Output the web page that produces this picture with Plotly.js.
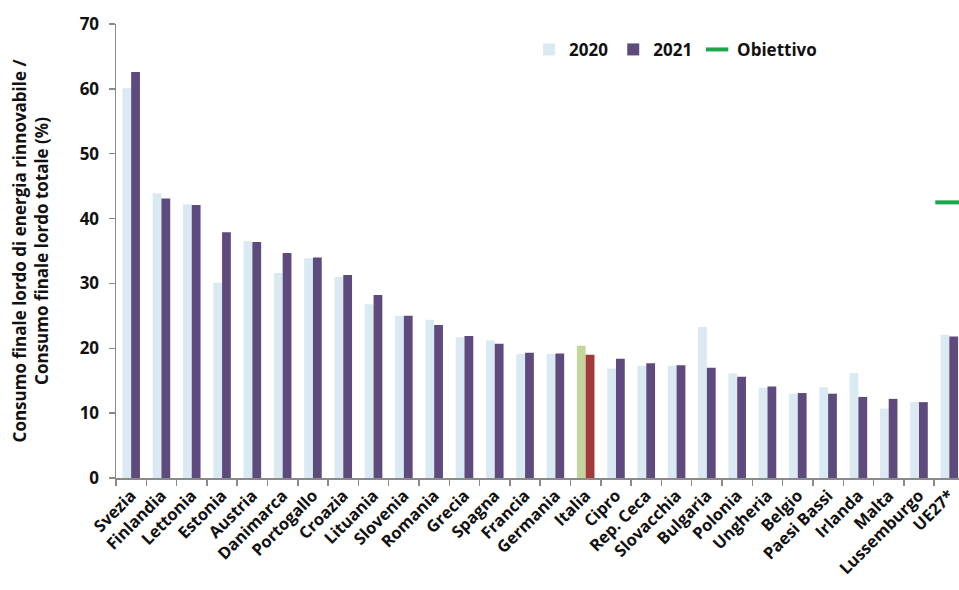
<!DOCTYPE html>
<html>
<head>
<meta charset="utf-8">
<script src="https://cdn.plot.ly/plotly-3.0.1.min.js"></script>
<style>html,body{margin:0;padding:0;background:#fff;}</style>
</head>
<body>
<div id="chart" style="width:959px;height:590px;"></div>
<script>
const categories = ["Svezia","Finlandia","Lettonia","Estonia","Austria","Danimarca","Portogallo","Croazia","Lituania","Slovenia","Romania","Grecia","Spagna","Francia","Germania","Italia","Cipro","Rep. Ceca","Slovacchia","Bulgaria","Polonia","Ungheria","Belgio","Paesi Bassi","Irlanda","Malta","Lussemburgo","UE27*"];
const values2020 = [60.1,43.9,42.2,30.1,36.5,31.6,33.9,31.0,26.8,25.0,24.4,21.7,21.2,19.1,19.1,20.4,16.9,17.3,17.3,23.3,16.1,13.9,13.0,14.0,16.2,10.7,11.7,22.1];
const values2021 = [62.6,43.1,42.1,37.9,36.4,34.7,34.0,31.3,28.2,25.0,23.6,21.9,20.7,19.3,19.2,19.0,18.4,17.7,17.4,17.0,15.6,14.1,13.1,13.0,12.5,12.2,11.7,21.8];
const targetCategory = ["UE27*"];
const targetValue = [42.5];

const col2020 = "#daeaf3", col2021 = "#5e4a7d";
const colors2020 = categories.map(c => c === "Italia" ? "#c3d69b" : col2020);
const colors2021 = categories.map(c => c === "Italia" ? "#a2393a" : col2021);

const fam = "Open Sans, sans-serif";

const traces = [
  {type: "bar", name: "2020", x: categories, y: values2020, marker: {color: colors2020}},
  {type: "bar", name: "2021", x: categories, y: values2021, marker: {color: colors2021}},
  {type: "scatter", mode: "markers", name: "Obiettivo", x: targetCategory, y: targetValue,
   marker: {symbol: "line-ew", size: 20, color: "#1aa64a", line: {color: "#1aa64a", width: 4}}}
];

const layout = {
  width: 959, height: 590,
  margin: {l: 116, r: 0, t: 24, b: 112},
  paper_bgcolor: "#fff", plot_bgcolor: "#fff",
  font: {family: fam, size: 16, color: "#111", weight: 700},
  barmode: "group", bargap: 0.42, bargroupgap: 0,
  showlegend: true,
  legend: {orientation: "h", x: 0.49, y: 0.943, xanchor: "left", yanchor: "middle",
    font: {family: fam, size: 17, color: "#111", weight: 700},
    bgcolor: "rgba(0,0,0,0)", itemwidth: 30, traceorder: "normal"},
  xaxis: {
    range: [-0.5, 27.32], type: "category",
    showline: true, linecolor: "#8a8a8a", linewidth: 1.5,
    ticks: "outside", tickson: "boundaries", ticklen: 6, tickcolor: "#8a8a8a", tickwidth: 1.5,
    tickangle: -45, tickfont: {family: fam, size: 16.5, color: "#111", weight: 700},
    showgrid: false, zeroline: false, automargin: false
  },
  yaxis: {
    range: [0, 70], dtick: 10,
    showline: true, linecolor: "#8a8a8a", linewidth: 1.5,
    ticks: "outside", ticklen: 6, tickcolor: "#8a8a8a", tickwidth: 1.5,
    ticklabelstandoff: 6,
    tickfont: {family: fam, size: 17, color: "#111", weight: 700},
    showgrid: false, zeroline: false, automargin: false,
    title: {text: "Consumo finale lordo di energia rinnovabile /<br>Consumo finale lordo totale (%)",
      font: {family: fam, size: 17, color: "#111", weight: 700}, standoff: 26}
  }
};

Plotly.newPlot("chart", traces, layout, {displayModeBar: false, staticPlot: true});
</script>
</body>
</html>
